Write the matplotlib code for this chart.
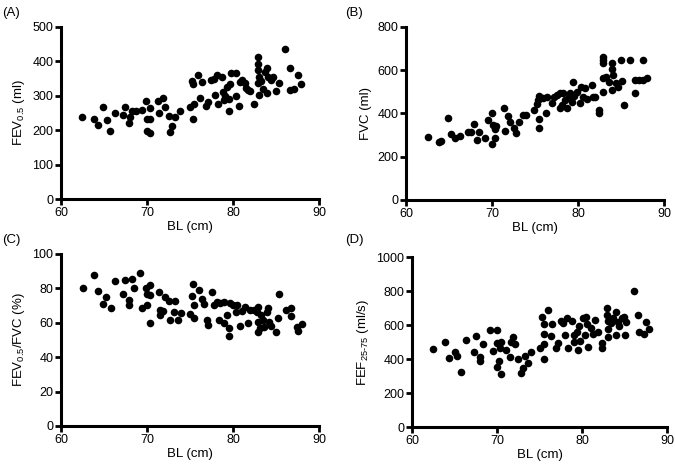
import matplotlib
matplotlib.use('Agg')
import matplotlib.pyplot as plt

plt.rcParams['font.family'] = ['Liberation Sans', 'DejaVu Sans']
plt.rcParams['mathtext.fontset'] = 'custom'
plt.rcParams['mathtext.rm'] = 'Liberation Sans'
plt.rcParams['mathtext.it'] = 'Liberation Sans'

# (A) FEV0.5 vs body length
bl_a = [62.4, 63.8, 64.3, 64.9, 65.3, 65.7, 66.3, 67.2, 67.4, 67.9, 68.0, 68.3, 68.7, 69.4,
        69.9, 70.0, 70.0, 70.4, 70.3, 70.3, 71.3, 71.4, 71.9, 72.1, 72.5, 72.9, 72.7, 73.3,
        73.8, 75.0, 75.2, 75.4, 75.4, 75.5, 75.9, 76.4, 76.2, 76.9, 77.1, 77.4, 77.8, 78.1,
        78.7, 77.9, 78.3, 78.8, 78.9, 79.1, 79.3, 79.5, 79.7, 79.5, 79.8, 80.3, 80.3, 80.7,
        80.8, 81.1, 81.4, 81.8, 81.5, 82.0, 82.4, 82.9, 82.9, 82.9, 83.0, 82.9, 83.0, 83.2,
        83.5, 83.7, 83.9, 84.1, 83.9, 84.4, 84.7, 85.0, 85.3, 86.1, 86.6, 86.6, 87.1, 87.5,
        87.9]
fev = [237, 234, 216, 266, 230, 199, 251, 243, 266, 220, 239, 256, 257, 259,
       286, 232, 199, 193, 264, 234, 286, 251, 293, 268, 241, 212, 196, 237,
       257, 268, 344, 334, 234, 276, 360, 341, 295, 270, 283, 346, 348, 360,
       354, 302, 276, 312, 288, 300, 325, 257, 334, 290, 365, 365, 299, 270,
       341, 346, 338, 317, 322, 315, 276, 412, 392, 375, 356, 338, 302, 344,
       319, 370, 380, 356, 309, 346, 356, 315, 336, 435, 380, 317, 319, 360,
       334]

# (B) FVC vs body length
bl_b = [62.5, 63.8, 64.1, 64.9, 65.2, 65.7, 66.3, 67.2, 67.6, 67.9, 68.3, 68.5, 69.2, 69.5,
        70.0, 70.0, 70.1, 70.3, 70.4, 70.5, 71.4, 71.5, 71.9, 72.1, 72.5, 72.8, 73.1, 73.6,
        73.9, 74.9, 75.2, 75.3, 75.5, 75.5, 75.5, 75.9, 76.3, 76.4, 77.0, 77.2, 77.6, 77.9,
        77.9, 78.1, 78.3, 78.5, 78.7, 78.9, 79.1, 79.3, 79.4, 79.5, 79.9, 80.2, 80.4, 80.6,
        80.8, 81.1, 81.6, 81.7, 82.0, 82.4, 82.4, 82.9, 82.9, 82.9, 82.9, 82.9, 83.3, 83.6,
        83.9, 84.0, 84.1, 83.9, 84.4, 84.7, 85.0, 85.1, 85.3, 86.1, 86.6, 86.6, 87.1, 87.6,
        88.0, 87.6]
fvc = [293, 267, 273, 378, 305, 288, 296, 313, 313, 351, 277, 313, 285, 370,
       401, 257, 347, 285, 327, 342, 424, 321, 388, 362, 331, 311, 362, 393,
       393, 416, 442, 462, 373, 331, 481, 470, 401, 475, 447, 475, 486, 496,
       424, 439, 493, 462, 424, 475, 496, 455, 547, 481, 501, 450, 521, 478,
       516, 465, 532, 475, 475, 416, 404, 663, 647, 632, 563, 501, 570, 547,
       635, 604, 578, 509, 539, 521, 647, 552, 439, 647, 493, 555, 555, 647,
       563, 555]

# (C) FEV0.5/FVC vs body length
bl_c = [62.5, 63.8, 64.3, 65.2, 64.9, 65.8, 66.3, 67.2, 67.4, 67.9, 67.9, 68.2, 68.5, 69.2,
        69.4, 69.9, 70.0, 70.0, 70.4, 70.3, 70.4, 71.4, 71.5, 71.5, 71.9, 72.1, 72.5, 72.7,
        73.1, 73.3, 73.6, 73.9, 75.0, 75.2, 75.4, 75.5, 75.5, 76.0, 76.4, 76.6, 77.0, 77.1,
        77.5, 77.8, 78.1, 78.5, 78.9, 78.4, 78.9, 79.3, 79.5, 79.5, 79.7, 80.0, 80.4, 80.5,
        80.8, 81.0, 81.4, 81.7, 82.0, 82.4, 82.8, 82.9, 82.9, 83.1, 82.9, 83.3, 83.5, 83.6,
        83.9, 84.1, 84.2, 84.4, 85.0, 85.2, 85.3, 86.2, 86.7, 86.7, 87.4, 87.6, 88.0]
ratio = [80.4, 87.8, 78.5, 74.8, 70.7, 68.8, 84.3, 76.7, 84.9, 73.3, 70.3, 85.3, 80.4, 88.8,
         68.8, 80.0, 76.6, 70.3, 82.0, 76.2, 59.7, 78.1, 67.4, 64.5, 66.9, 75.2, 72.7, 61.6,
         66.1, 72.7, 61.6, 65.5, 64.9, 75.8, 82.4, 70.3, 63.0, 79.1, 73.8, 70.7, 61.6, 58.7,
         77.7, 70.3, 72.3, 71.3, 71.9, 61.6, 59.7, 64.5, 57.2, 52.5, 71.3, 70.3, 66.1, 70.3,
         58.3, 66.9, 69.4, 59.7, 67.4, 67.4, 66.1, 69.4, 60.7, 57.2, 54.8, 64.5, 61.6, 57.8,
         66.5, 68.8, 60.7, 58.3, 54.8, 63.0, 76.6, 67.4, 68.8, 64.1, 57.8, 55.2, 59.1]

# (D) FEF25-75 vs body length
bl_d = [62.5, 63.9, 64.4, 65.1, 65.3, 65.8, 66.3, 67.3, 67.5, 68.0, 68.0, 68.4, 69.2, 69.5,
        70.0, 70.0, 70.2, 70.0, 70.5, 70.4, 70.5, 71.1, 71.5, 71.7, 71.9, 72.1, 72.5, 72.8,
        73.0, 73.3, 73.7, 74.0, 75.0, 75.3, 75.5, 75.5, 75.5, 75.5, 76.0, 76.4, 76.5, 76.9,
        77.2, 77.5, 77.8, 78.0, 78.2, 78.4, 78.8, 79.0, 79.1, 79.4, 79.5, 79.7, 79.8, 80.1,
        80.4, 80.5, 80.6, 80.7, 81.0, 81.3, 81.5, 81.9, 82.3, 82.4, 82.9, 82.9, 83.0, 83.1,
        83.0, 83.4, 83.7, 84.0, 84.0, 84.2, 84.3, 84.7, 84.9, 85.2, 85.1, 86.1, 86.6, 86.7,
        87.3, 87.5, 87.9]
fef = [457, 498, 404, 443, 420, 325, 510, 439, 537, 414, 388, 486, 569, 447,
       569, 492, 388, 355, 310, 463, 502, 453, 414, 498, 531, 486, 400, 316,
       345, 420, 375, 443, 463, 649, 604, 545, 400, 486, 688, 537, 604, 467,
       492, 624, 610, 541, 643, 463, 624, 541, 502, 561, 453, 596, 506, 639,
       541, 649, 604, 473, 580, 545, 629, 557, 463, 492, 702, 659, 624, 576,
       531, 610, 643, 678, 541, 616, 596, 639, 649, 616, 541, 800, 659, 557,
       545, 616, 576]

panels = [
    ('(A)', bl_a, fev, 'FEV$_{0.5}$ (ml)', (0, 500), [0, 100, 200, 300, 400, 500],
     [0.0904, 0.572, 0.3822, 0.370], (0.003, 0.985)),
    ('(B)', bl_b, fvc, 'FVC (ml)', (0, 800), [0, 200, 400, 600, 800],
     [0.6015, 0.570, 0.3822, 0.372], (0.511, 0.985)),
    ('(C)', bl_c, ratio, 'FEV$_{0.5}$/FVC (%)', (0, 100), [0, 20, 40, 60, 80, 100],
     [0.0904, 0.0839, 0.3822, 0.370], (0.003, 0.497)),
    ('(D)', bl_d, fef, 'FEF$_{25\\text{-}75}$ (ml/s)', (0, 1000), [0, 200, 400, 600, 800, 1000],
     [0.6104, 0.0817, 0.3778, 0.3656], (0.511, 0.497)),
]

fig = plt.figure(figsize=(6.75, 4.65), dpi=100)

for tag, xs, ys, ylab, ylim, yticks, rect, tagpos in panels:
    ax = fig.add_axes(rect)
    ax.scatter(xs, ys, s=30, c='black', linewidths=0, clip_on=False, zorder=3)
    ax.set_xlim(60, 90)
    ax.set_ylim(*ylim)
    ax.set_xticks([60, 70, 80, 90])
    ax.set_yticks(yticks)
    for side in ['top', 'right']:
        ax.spines[side].set_visible(False)
    for side in ['left', 'bottom']:
        ax.spines[side].set_linewidth(2.2)
    ax.tick_params(width=2, length=4, labelsize=9, pad=1.5)
    ax.set_xlabel('BL (cm)', fontsize=9.5, labelpad=2)
    ax.set_ylabel(ylab, fontsize=9.5, labelpad=4)
    fig.text(tagpos[0], tagpos[1], tag, fontsize=9.5, va='top', ha='left')

fig.savefig('out.png', dpi=100)
